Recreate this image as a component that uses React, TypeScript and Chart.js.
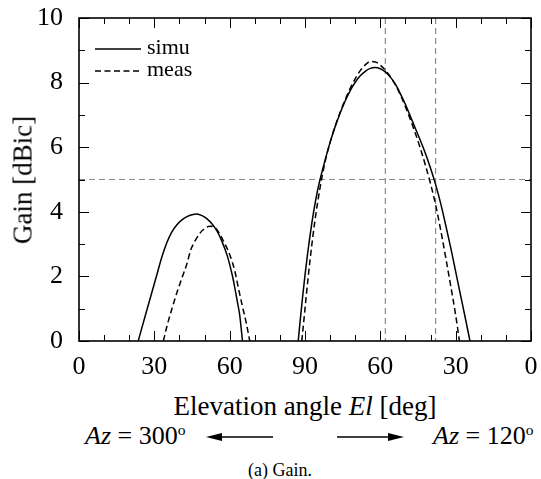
import React, { useEffect, useRef } from "react";
import { Chart, registerables } from "chart.js";
Chart.register(...registerables);

// ---- data (angle axis runs 0..180: left half Az=300 El 0..90, right half Az=120 El 90..0)
const simuLeftAngle = [23.6, 25, 27, 29, 31, 33, 35, 37, 39, 41, 43, 45, 47, 49, 51, 53, 55, 57, 59, 61, 62, 63, 64, 65.1];
const simuLeftGain = [0, 0.4, 0.95, 1.5, 2.05, 2.6, 3.05, 3.38, 3.6, 3.75, 3.85, 3.91, 3.93, 3.88, 3.78, 3.62, 3.4, 3.07, 2.65, 2.05, 1.67, 1.24, 0.8, 0];
const measLeftAngle = [33.6, 35, 37, 39, 41, 43, 44.5, 46, 48, 50, 52, 54, 56, 58, 60, 62, 63.5, 65, 66.5, 68];
const measLeftGain = [0, 0.45, 1.0, 1.5, 1.95, 2.4, 2.82, 3.07, 3.32, 3.48, 3.55, 3.52, 3.32, 3.02, 2.68, 2.18, 1.63, 1.1, 0.6, 0];
const simuRightAngle = [87.3, 88, 89, 90, 91, 92, 93, 94, 95, 96, 98, 100, 102, 104, 106, 108, 110, 112, 114, 116, 118, 120, 122, 124, 126, 128, 130, 132, 134, 136, 138, 140, 142, 144, 146, 148, 150, 152, 154, 155.7];
const simuRightGain = [0, 0.57, 1.33, 2.04, 2.68, 3.26, 3.79, 4.25, 4.66, 5.0, 5.6, 6.15, 6.63, 7.06, 7.43, 7.75, 8.01, 8.21, 8.35, 8.44, 8.47, 8.43, 8.33, 8.17, 7.95, 7.65, 7.32, 6.95, 6.57, 6.2, 5.8, 5.35, 4.85, 4.27, 3.6, 2.9, 2.15, 1.4, 0.65, 0];
const measRightAngle = [88.7, 89.5, 90.5, 92, 94, 96, 98, 100, 102, 104, 106, 108, 110, 112, 114, 116, 118, 120, 122, 124, 126, 128, 130, 132, 134, 136, 138, 140, 142, 144, 146, 148, 150, 151.5];
const measRightGain = [0, 0.6, 1.4, 2.5, 3.75, 4.75, 5.55, 6.15, 6.65, 7.08, 7.47, 7.82, 8.12, 8.37, 8.55, 8.65, 8.64, 8.54, 8.38, 8.18, 7.93, 7.62, 7.25, 6.85, 6.42, 5.95, 5.43, 4.87, 4.22, 3.45, 2.6, 1.72, 0.8, 0];

const xTickValues = [0, 30, 60, 90, 120, 150, 180];
const xTickLabels = ["0", "30", "60", "90", "60", "30", "0"];
const yTickValues = [0, 2, 4, 6, 8, 10];
const refGain = 5;
const refAngles = [122, 142];
const legendLabels = ["simu", "meas"];

const FONT = '"Liberation Serif", "Times New Roman", serif';

const pts = (xs: number[], ys: number[]) => xs.map((x, i) => ({ x, y: ys[i] }));

const zeroPad = (s: any) => {
  s.paddingTop = 0;
  s.paddingBottom = 0;
  s.paddingLeft = 0;
  s.paddingRight = 0;
};

const decorPlugin = {
  id: "decor",
  beforeDatasetsDraw(chart: any) {
    const { ctx, chartArea: a, scales } = chart;
    const xs = scales.x, ys = scales.y;
    ctx.save();
    ctx.strokeStyle = "#8a8a8a";
    ctx.lineWidth = 1.2;
    ctx.setLineDash([6, 4]);
    const yp = ys.getPixelForValue(refGain);
    ctx.beginPath();
    ctx.moveTo(a.left, yp);
    ctx.lineTo(a.right, yp);
    ctx.stroke();
    refAngles.forEach((v) => {
      const xp = xs.getPixelForValue(v);
      ctx.beginPath();
      ctx.moveTo(xp, a.top);
      ctx.lineTo(xp, a.bottom);
      ctx.stroke();
    });
    ctx.restore();
  },
  afterDatasetsDraw(chart: any) {
    const { ctx, chartArea: a, scales } = chart;
    const xs = scales.x, ys = scales.y;
    ctx.save();
    ctx.strokeStyle = "#000";
    ctx.lineWidth = 1;
    ctx.setLineDash([]);
    ctx.beginPath();
    for (let v = 0; v <= 180; v += 10) {
      const len = v % 30 === 0 ? 10 : 6;
      const xp = Math.round(xs.getPixelForValue(v)) + 0.5;
      ctx.moveTo(xp, a.bottom);
      ctx.lineTo(xp, a.bottom - len);
      ctx.moveTo(xp, a.top);
      ctx.lineTo(xp, a.top + len);
    }
    for (let v = 0; v <= 10; v += 1) {
      const len = v % 2 === 0 ? 10 : 6;
      const yp = Math.round(ys.getPixelForValue(v)) + 0.5;
      ctx.moveTo(a.left, yp);
      ctx.lineTo(a.left + len, yp);
      ctx.moveTo(a.right, yp);
      ctx.lineTo(a.right - len, yp);
    }
    ctx.stroke();
    ctx.lineWidth = 1.6;
    ctx.strokeRect(a.left, a.top, a.right - a.left, a.bottom - a.top);
    ctx.restore();
  },
  afterDraw(chart: any) {
    const { ctx, chartArea: a } = chart;
    ctx.save();
    ctx.strokeStyle = "#000";
    ctx.fillStyle = "#000";
    ctx.lineWidth = 1.5;
    const x0 = a.left + 16, x1 = a.left + 62;
    const y0 = a.top + 31, y1 = a.top + 53;
    ctx.setLineDash([]);
    ctx.beginPath();
    ctx.moveTo(x0, y0);
    ctx.lineTo(x1, y0);
    ctx.stroke();
    ctx.setLineDash([6, 3.5]);
    ctx.beginPath();
    ctx.moveTo(x0, y1);
    ctx.lineTo(x1, y1);
    ctx.stroke();
    ctx.setLineDash([]);
    ctx.font = `22px ${FONT}`;
    ctx.textBaseline = "middle";
    ctx.textAlign = "left";
    ctx.fillText(legendLabels[0], x1 + 6, y0 - 1);
    ctx.fillText(legendLabels[1], x1 + 6, y1 - 1);
    ctx.restore();
  },
};

export default function App() {
  const ref = useRef<HTMLCanvasElement>(null);
  useEffect(() => {
    const canvas = ref.current!;
    const base = { showLine: true, pointRadius: 0, borderColor: "#000", borderWidth: 1.5, cubicInterpolationMode: "monotone" as const, fill: false };
    const chart = new Chart(canvas, {
      type: "scatter",
      data: {
        datasets: [
          { ...base, label: "simu", data: pts(simuLeftAngle, simuLeftGain) },
          { ...base, label: "simu", data: pts(simuRightAngle, simuRightGain) },
          { ...base, label: "meas", borderDash: [6, 3.5], data: pts(measLeftAngle, measLeftGain) },
          { ...base, label: "meas", borderDash: [6, 3.5], data: pts(measRightAngle, measRightGain) },
        ],
      },
      options: {
        animation: false,
        responsive: true,
        maintainAspectRatio: false,
        layout: { padding: { top: 18, right: 10, left: 0, bottom: 0 } },
        plugins: { legend: { display: false }, tooltip: { enabled: false } },
        scales: {
          x: {
            type: "linear",
            min: 0,
            max: 180,
            border: { display: false },
            grid: { display: false, drawTicks: false },
            afterBuildTicks: (s: any) => { s.ticks = xTickValues.map((v) => ({ value: v })); },
            afterFit: (s: any) => { s.height = 385 - 341; zeroPad(s); },
            ticks: {
              padding: 11,
              color: "#000",
              font: { family: FONT, size: 26 },
              callback: (v: any) => xTickLabels[xTickValues.indexOf(Number(v))] ?? "",
              maxRotation: 0,
              autoSkip: false,
            },
          },
          y: {
            type: "linear",
            min: 0,
            max: 10,
            border: { display: false },
            grid: { display: false, drawTicks: false },
            afterBuildTicks: (s: any) => { s.ticks = yTickValues.map((v) => ({ value: v })); },
            afterFit: (s: any) => { s.width = 79; zeroPad(s); },
            ticks: {
              padding: 16,
              color: "#000",
              font: { family: FONT, size: 26 },
            },
          },
        },
      },
      plugins: [decorPlugin],
    });
    return () => chart.destroy();
  }, []);

  const txt: React.CSSProperties = { position: "absolute", fontFamily: FONT, color: "#000", lineHeight: 1, whiteSpace: "nowrap" };
  const sup: React.CSSProperties = { fontSize: "0.6em", position: "relative", top: "-0.55em" };

  return (
    <div style={{ position: "absolute", left: 0, top: 0, width: 541, height: 479, overflow: "hidden", background: "#fff" }}>
      <div style={{ position: "absolute", left: 0, top: 0, width: 541, height: 385 }}>
        <canvas ref={ref} />
      </div>
      <div style={{ ...txt, fontSize: 27, left: 23, top: 179.5, transform: "translate(-50%, -50%) rotate(-90deg)" }}>
        Gain [dBic]
      </div>
      <div style={{ ...txt, fontSize: 27, left: 305, top: 393, transform: "translateX(-50%)" }}>
        Elevation angle <i>El</i> [deg]
      </div>
      <div style={{ ...txt, fontSize: 26, left: 85, top: 423 }}>
        <i>Az</i> = 300<span style={sup}>o</span>
      </div>
      <div style={{ ...txt, fontSize: 26, left: 433, top: 423 }}>
        <i>Az</i> = 120<span style={sup}>o</span>
      </div>
      <svg style={{ position: "absolute", left: 0, top: 425 }} width={541} height={24}>
        <line x1={220} y1={12} x2={273} y2={12} stroke="#000" strokeWidth={1.5} />
        <polygon points="206,12 222,8 222,16" fill="#000" />
        <line x1={337} y1={12} x2={390} y2={12} stroke="#000" strokeWidth={1.5} />
        <polygon points="404,12 388,8 388,16" fill="#000" />
      </svg>
      <div style={{ ...txt, fontSize: 18, left: 280, top: 461, transform: "translateX(-50%)" }}>
        (a) Gain.
      </div>
    </div>
  );
}
